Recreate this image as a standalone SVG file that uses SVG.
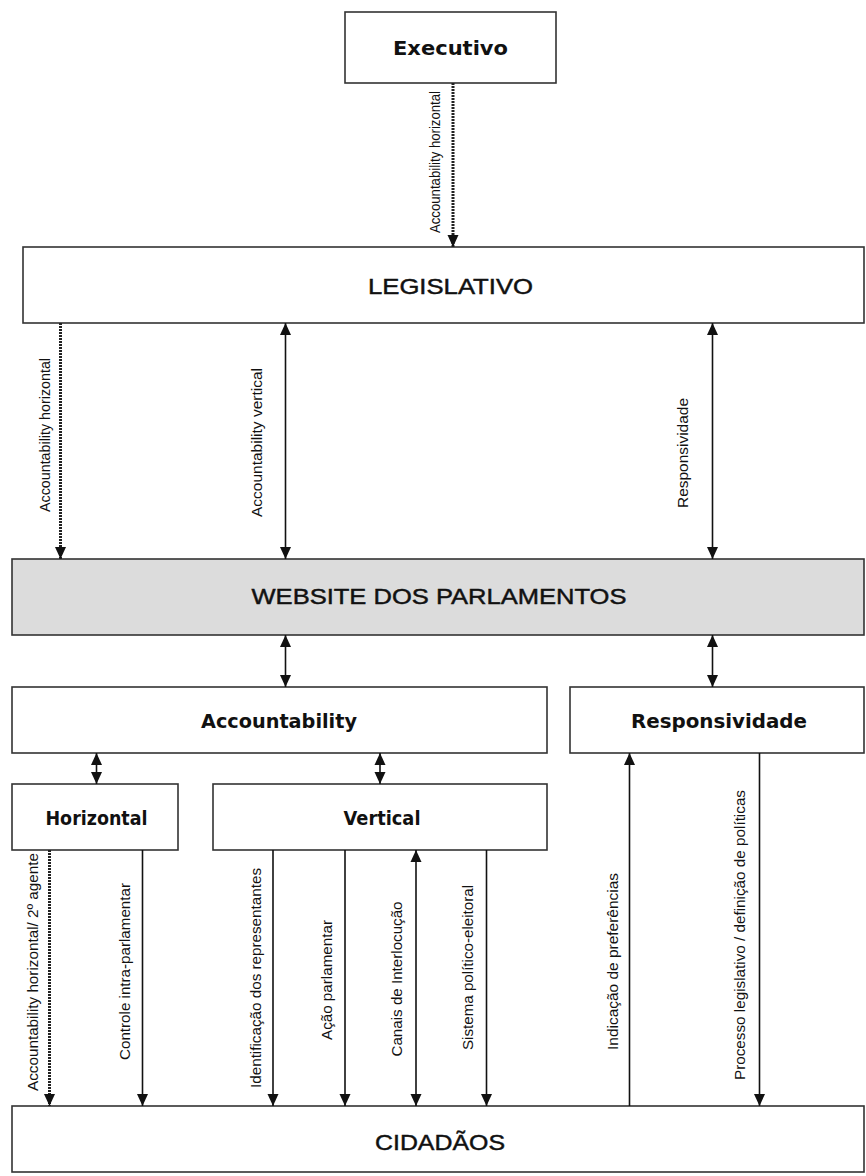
<svg xmlns="http://www.w3.org/2000/svg" width="866" height="1176" viewBox="0 0 866 1176">
<style>
.box{fill:#fff;stroke:#333;stroke-width:1.6}
.grey{fill:#dcdcdc}
.big{font-family:"Liberation Sans",Arial,sans-serif;font-size:22px;fill:#111;stroke:#111;stroke-width:0.45;text-anchor:middle}
.bold{font-family:"DejaVu Sans","Liberation Sans",sans-serif;font-weight:bold;font-size:19px;fill:#111;text-anchor:middle}
.lab{font-family:"Liberation Sans",Arial,sans-serif;font-size:15px;fill:#111;text-anchor:middle}
.ln{stroke:#111;stroke-width:1.6;fill:none}
.dot{stroke:#222;stroke-width:3;stroke-dasharray:2 1;fill:none}
.one{marker-end:url(#ah)}
.two{marker-start:url(#ah);marker-end:url(#ah)}
</style>
<defs>
<marker id="ah" viewBox="0 0 12 12" refX="12" refY="6" markerWidth="12" markerHeight="12" markerUnits="userSpaceOnUse" orient="auto-start-reverse">
<path d="M0,0.5 L12,6 L0,11.5 z" fill="#111"/>
</marker>
</defs>

<g id="executivo">
<rect class="box" x="345" y="12" width="211" height="71"/>
<text class="bold" x="450.5" y="55" font-size="20" textLength="115" lengthAdjust="spacingAndGlyphs">Executivo</text>
</g>
<g id="legislativo">
<rect class="box" x="23" y="247" width="841" height="76"/>
<text class="big" x="450.5" y="294" textLength="165" lengthAdjust="spacingAndGlyphs">LEGISLATIVO</text>
</g>
<g id="website">
<rect class="box grey" x="12" y="559" width="852" height="76"/>
<text class="big" x="439" y="604" textLength="375" lengthAdjust="spacingAndGlyphs">WEBSITE DOS PARLAMENTOS</text>
</g>
<g id="accountability">
<rect class="box" x="12" y="687" width="535" height="66"/>
<text class="bold" x="279" y="728" textLength="156" lengthAdjust="spacingAndGlyphs">Accountability</text>
</g>
<g id="responsividade">
<rect class="box" x="570" y="687" width="294" height="66"/>
<text class="bold" x="719" y="728" textLength="176" lengthAdjust="spacingAndGlyphs">Responsividade</text>
</g>
<g id="horizontal">
<rect class="box" x="12" y="784" width="166" height="66"/>
<text class="bold" x="96.5" y="825" textLength="102" lengthAdjust="spacingAndGlyphs">Horizontal</text>
</g>
<g id="vertical">
<rect class="box" x="213" y="784" width="334" height="66"/>
<text class="bold" x="382" y="825" textLength="77" lengthAdjust="spacingAndGlyphs">Vertical</text>
</g>
<g id="cidadaos">
<rect class="box" x="12" y="1106" width="852" height="66"/>
<text class="big" x="440" y="1150" textLength="130" lengthAdjust="spacingAndGlyphs">CIDADÃOS</text>
</g>

<g id="connectors">
<line class="dot one" x1="453" y1="83" x2="453" y2="247"/>
<line class="dot one" x1="60.5" y1="323" x2="60.5" y2="559"/>
<line class="ln two" x1="285.5" y1="323" x2="285.5" y2="559"/>
<line class="ln two" x1="712.5" y1="323" x2="712.5" y2="559"/>
<line class="ln two" x1="285.5" y1="635" x2="285.5" y2="687"/>
<line class="ln two" x1="712.5" y1="635" x2="712.5" y2="687"/>
<line class="ln two" x1="96.5" y1="753" x2="96.5" y2="784"/>
<line class="ln two" x1="380" y1="753" x2="380" y2="784"/>
<line class="dot one" x1="49.5" y1="850" x2="49.5" y2="1106"/>
<line class="ln one" x1="142.5" y1="850" x2="142.5" y2="1106"/>
<line class="ln one" x1="273" y1="850" x2="273" y2="1106"/>
<line class="ln one" x1="345" y1="850" x2="345" y2="1106"/>
<line class="ln two" x1="416" y1="850" x2="416" y2="1106"/>
<line class="ln one" x1="486.5" y1="850" x2="486.5" y2="1106"/>
<line class="ln one" x1="629.5" y1="1106" x2="629.5" y2="753"/>
<line class="ln one" x1="759.5" y1="753" x2="759.5" y2="1106"/>

<text class="lab" font-size="13" transform="translate(440,162) rotate(-90)" textLength="142" lengthAdjust="spacingAndGlyphs">Accountability horizontal</text>
<text class="lab" transform="translate(49.5,435) rotate(-90)" textLength="154" lengthAdjust="spacingAndGlyphs">Accountability horizontal</text>
<text class="lab" transform="translate(261.5,442.5) rotate(-90)" textLength="149" lengthAdjust="spacingAndGlyphs">Accountability vertical</text>
<text class="lab" transform="translate(687.5,453) rotate(-90)" textLength="110" lengthAdjust="spacingAndGlyphs">Responsividade</text>
<text class="lab" transform="translate(37.5,972) rotate(-90)" textLength="238" lengthAdjust="spacingAndGlyphs">Accountability horizontal/ 2º agente</text>
<text class="lab" transform="translate(129.5,971.5) rotate(-90)" textLength="177" lengthAdjust="spacingAndGlyphs">Controle intra-parlamentar</text>
<text class="lab" transform="translate(260.5,978) rotate(-90)" textLength="220" lengthAdjust="spacingAndGlyphs">Identificação dos representantes</text>
<text class="lab" transform="translate(331.5,980) rotate(-90)" textLength="120" lengthAdjust="spacingAndGlyphs">Ação parlamentar</text>
<text class="lab" transform="translate(401.5,979) rotate(-90)" textLength="155" lengthAdjust="spacingAndGlyphs">Canais de Interlocução</text>
<text class="lab" transform="translate(472.5,967.5) rotate(-90)" textLength="165" lengthAdjust="spacingAndGlyphs">Sistema político-eleitoral</text>
<text class="lab" transform="translate(617.5,961.5) rotate(-90)" textLength="177" lengthAdjust="spacingAndGlyphs">Indicação de preferências</text>
<text class="lab" transform="translate(744.5,935) rotate(-90)" textLength="290" lengthAdjust="spacingAndGlyphs">Processo legislativo / definição de políticas</text>
</g>
</svg>
